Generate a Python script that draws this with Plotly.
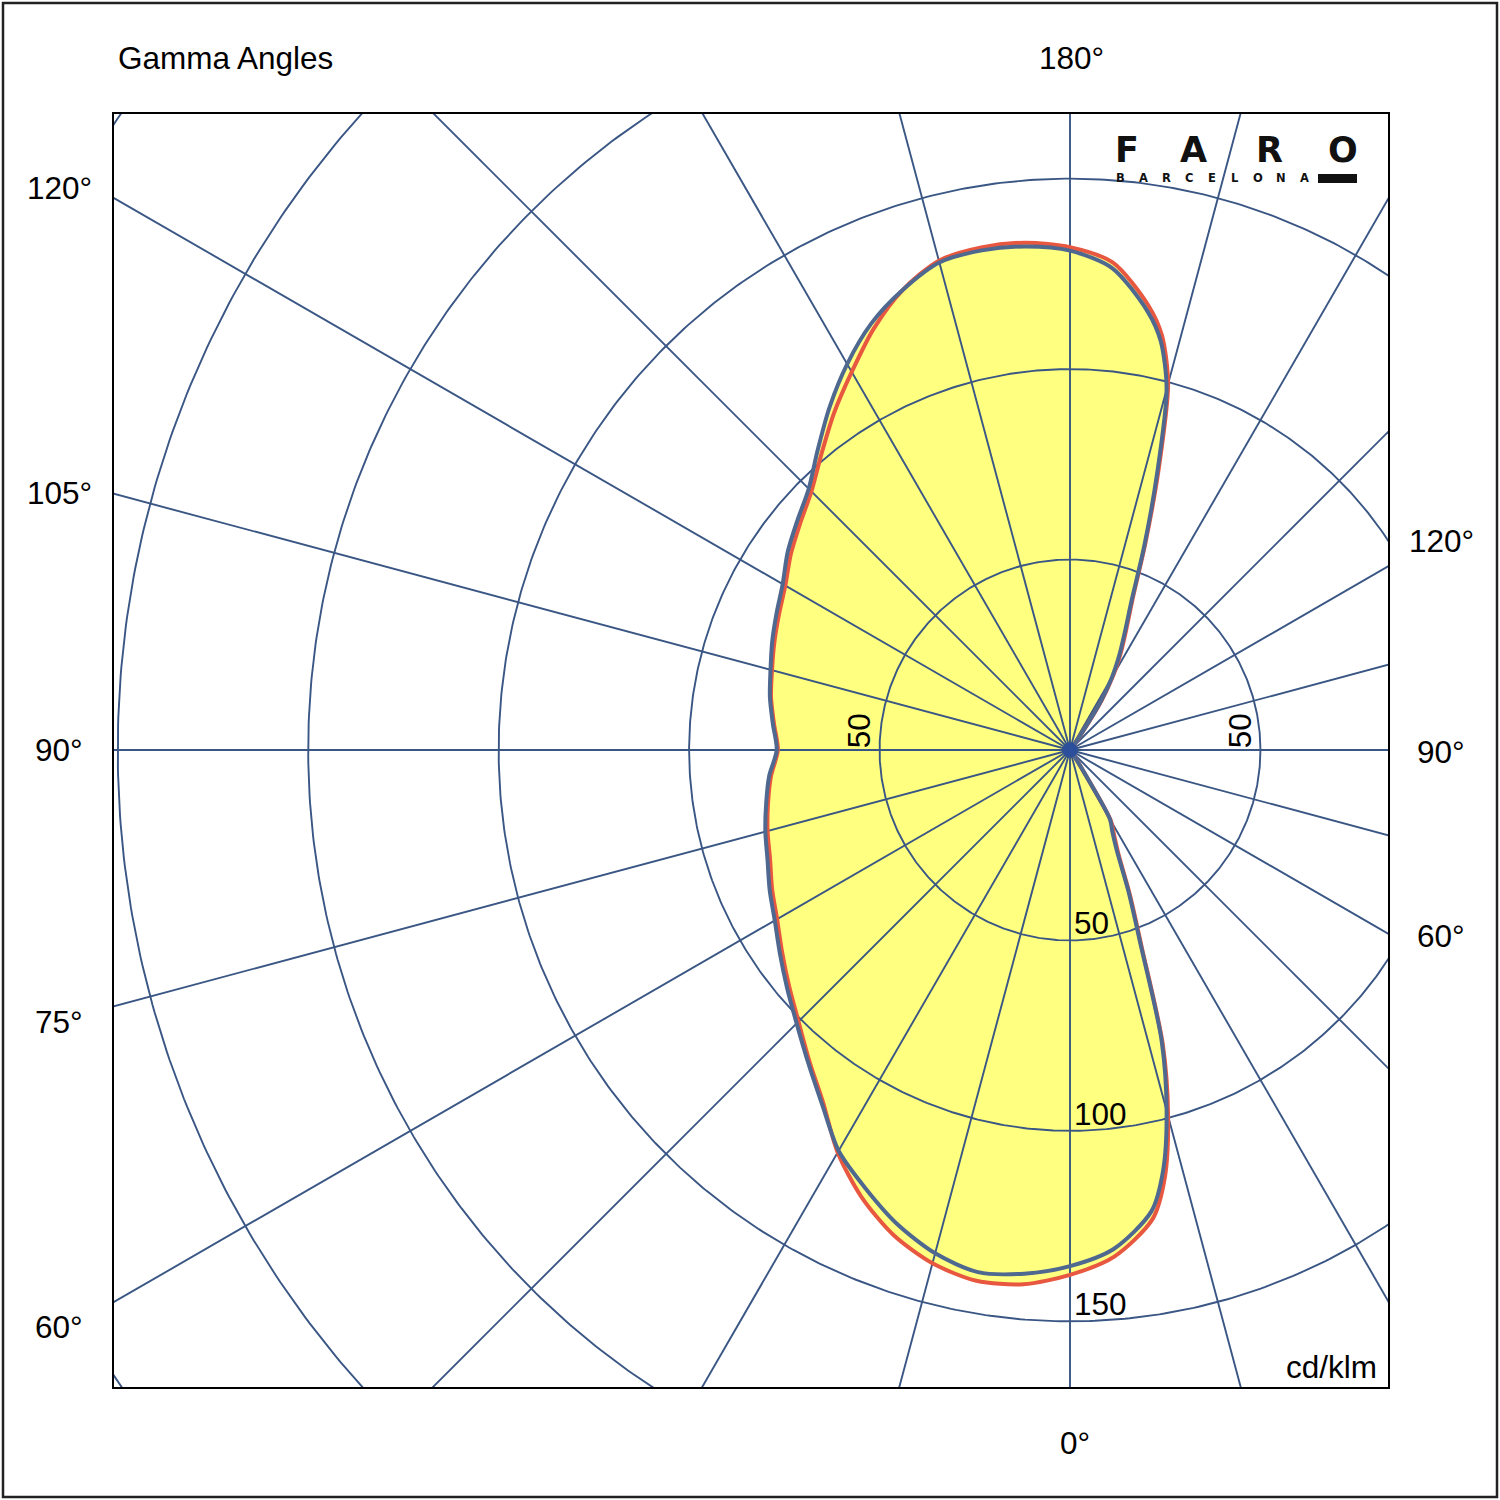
import numpy as np
import plotly.graph_objects as go

# ---------------- data (cd/klm) ----------------
gamma_left = [0, 5, 10, 15, 20, 25, 30, 35, 40, 45, 50, 55, 60, 65, 70, 75, 80, 85, 90,
              95, 100, 105, 110, 115, 120, 125, 130, 135, 140, 145, 150, 155, 160, 165, 170, 175, 180]
blue_left = [135.5, 138.0, 139.2, 136.8, 132.5, 127.0, 121.5, 113.5, 107.0, 101.5, 97.0, 93.0, 89.5,
             87.0, 84.5, 82.8, 81.0, 79.3, 77.0, 78.3, 80.0, 81.4, 83.2, 85.0, 87.1, 90.5, 93.5,
             97.0, 103.0, 110.0, 117.0, 123.5, 128.5, 132.5, 133.2, 132.7, 131.1]
red_left = [137.8, 140.8, 141.5, 139.5, 135.5, 129.5, 122.0, 113.0, 106.5, 100.8, 96.3, 92.3, 88.8,
            86.3, 83.8, 82.2, 80.5, 78.8, 76.7, 78.0, 79.7, 81.0, 82.6, 84.3, 86.3, 89.5, 92.5,
            96.0, 101.5, 108.0, 114.6, 122.0, 128.5, 133.0, 134.0, 133.7, 132.0]

gamma_right = [0, 5, 10, 12.5, 15, 17.5, 20, 22.5, 25, 27.5, 30, 32.5, 35, 40,
               50, 60, 70, 80, 90, 100, 110, 120, 130,
               140, 145, 147.5, 150, 152.5, 155, 157.5, 160, 162.5, 165, 167.5, 170, 175, 180]
blue_right = [135.5, 131.5, 123.0, 113.0, 98.0, 80.0, 54.0, 40.0, 29.0, 24.0, 21.0, 6.0, 2.0, 1.0,
              0.5, 0.5, 0.5, 0.5, 0.5, 0.5, 0.5, 0.5, 0.5,
              1.0, 5.0, 14.6, 22.0, 28.0, 34.0, 42.0, 57.0, 76.0, 98.0, 110.0, 117.0, 127.0, 131.1]
red_right = [137.8, 133.5, 125.0, 115.0, 99.5, 81.0, 55.0, 41.0, 30.0, 25.0, 21.5, 6.5, 2.0, 1.0,
             0.5, 0.5, 0.5, 0.5, 0.5, 0.5, 0.5, 0.5, 0.5,
             1.0, 5.5, 15.5, 23.0, 29.0, 35.0, 43.0, 58.0, 77.5, 99.5, 111.5, 118.5, 128.5, 132.0]

ring_values = [50, 100, 150, 200, 250, 300]
spoke_angles = list(range(0, 360, 15))
bottom_ring_labels = [50, 100, 150]
side_ring_label = 50

left_angle_labels = ["120°", "105°", "90°", "75°", "60°"]
right_angle_labels = ["120°", "90°", "60°"]
logo_big = ["F", "A", "R", "O"]
logo_small = list("BARCELONA")

# ---------------- geometry of the page ----------------
W = H = 1500
ML, MR, MT, MB = 114, 112, 114, 113
CX, CY = 1070, 750           # pole position in pixels
SCALE = 3.809                # pixels per cd/klm
x_range = [-(CX - ML) / SCALE, (W - MR - CX) / SCALE]
y_range = [-(H - MB - CY) / SCALE, (CY - MT) / SCALE]
PW, PH = W - ML - MR, H - MT - MB


def px(x):
    return (x - ML) / PW


def py(y):
    return (H - MB - y) / PH


def closed_path(gl, il, gr, ir):
    gl = np.radians(np.array(gl, float)); il = np.array(il, float)
    gr = np.radians(np.array(gr, float)); ir = np.array(ir, float)
    xl, yl = -il * np.sin(gl), -il * np.cos(gl)
    xr, yr = ir * np.sin(gr), -ir * np.cos(gr)
    x = np.concatenate([xl, xr[::-1][1:]])
    y = np.concatenate([yl, yr[::-1][1:]])
    return x, y


bx, by = closed_path(gamma_left, blue_left, gamma_right, blue_right)
rx, ry = closed_path(gamma_left, red_left, gamma_right, red_right)

YELLOW = "#FFFF80"
GRID = "#3A5684"
BLUE = "#4E6890"
RED = "#E8573F"
FONT = "Liberation Sans, Arial, sans-serif"

fig = go.Figure()

# fills
for xx, yy in [(rx, ry), (bx, by)]:
    fig.add_trace(go.Scatter(x=xx, y=yy, mode="lines", fill="toself", fillcolor=YELLOW,
                             line=dict(width=0, shape="spline", smoothing=0.8, color=YELLOW),
                             hoverinfo="skip", showlegend=False))

# grid rings
t = np.linspace(0, 2 * np.pi, 721)
gx, gy = [], []
for r in ring_values:
    gx += list(r * np.cos(t)) + [None]
    gy += list(r * np.sin(t)) + [None]
# spokes
rmax = 400
for a in spoke_angles:
    ar = np.radians(a)
    gx += [0, rmax * np.sin(ar), None]
    gy += [0, -rmax * np.cos(ar), None]
fig.add_trace(go.Scatter(x=gx, y=gy, mode="lines", line=dict(color=GRID, width=1.9),
                         hoverinfo="skip", showlegend=False))

# curves
fig.add_trace(go.Scatter(x=rx, y=ry, mode="lines",
                         line=dict(color=RED, width=4, shape="spline", smoothing=0.8),
                         hoverinfo="skip", showlegend=False))
fig.add_trace(go.Scatter(x=bx, y=by, mode="lines",
                         line=dict(color=BLUE, width=4, shape="spline", smoothing=0.8),
                         hoverinfo="skip", showlegend=False))
# pole
fig.add_trace(go.Scatter(x=[0], y=[0], mode="markers",
                         marker=dict(color="#2B4F9A", size=15),
                         hoverinfo="skip", showlegend=False))

ann = []
tf = dict(family=FONT, size=31.5, color="black")
ann.append(dict(text="Gamma Angles", x=px(116), y=py(58), xanchor="left", yanchor="middle"))
ann.append(dict(text="180°", x=px(1071), y=py(58), xanchor="center", yanchor="middle"))
ann.append(dict(text="0°", x=px(1075), y=py(1443), xanchor="center", yanchor="middle"))
for lab, yy in zip(left_angle_labels, [188, 493, 750, 1022, 1327]):
    ann.append(dict(text=lab, x=px(59), y=py(yy), xanchor="center", yanchor="middle"))
for lab, yy in zip(right_angle_labels, [541, 752, 936]):
    ann.append(dict(text=lab, x=px(1441), y=py(yy), xanchor="center", yanchor="middle"))
ann.append(dict(text="cd/klm", x=px(1379), y=py(1367), xanchor="right", yanchor="middle"))
for a in ann:
    a.update(xref="paper", yref="paper", showarrow=False, font=tf)

# ring labels (data coords)
for r in bottom_ring_labels:
    ann.append(dict(text=str(r), x=0.5, y=-r, xref="x", yref="y", xanchor="left", yanchor="bottom",
                    showarrow=False, font=tf, yshift=-3))
for sgn in (-1, 1):
    ann.append(dict(text=str(side_ring_label), x=sgn * side_ring_label - 5.3, y=5.0, xref="x", yref="y",
                    xanchor="center", yanchor="middle", textangle=-90, showarrow=False, font=tf))

# logo
for ch, xx in zip(logo_big, [1127, 1193, 1269, 1343]):
    ann.append(dict(text="<b>%s</b>" % ch, x=px(xx), y=py(150), xref="paper", yref="paper",
                    xanchor="center", yanchor="middle", showarrow=False,
                    font=dict(family="DejaVu Sans, sans-serif", size=35, color="#111111")))
for i, ch in enumerate(logo_small):
    ann.append(dict(text="<b>%s</b>" % ch, x=px(1120 + i * 23), y=py(178), xref="paper", yref="paper",
                    xanchor="center", yanchor="middle", showarrow=False,
                    font=dict(family="DejaVu Sans, sans-serif", size=11.5, color="#111111")))

shapes = [
    dict(type="rect", xref="paper", yref="paper", x0=px(1318), x1=px(1357), y0=py(183), y1=py(174),
         fillcolor="#111111", line=dict(width=0)),
    dict(type="rect", xref="paper", yref="paper", x0=px(3), x1=px(1497), y0=py(1497), y1=py(3),
         line=dict(color="#222222", width=2.5), fillcolor="rgba(0,0,0,0)"),
]

fig.update_layout(
    width=W, height=H,
    margin=dict(l=ML, r=MR, t=MT, b=MB, pad=0),
    paper_bgcolor="white", plot_bgcolor="white",
    xaxis=dict(range=x_range, showgrid=False, zeroline=False, showticklabels=False, ticks="",
               showline=True, mirror=True, linecolor="black", linewidth=2, fixedrange=True),
    yaxis=dict(range=y_range, showgrid=False, zeroline=False, showticklabels=False, ticks="",
               showline=True, mirror=True, linecolor="black", linewidth=2, fixedrange=True),
    annotations=ann, shapes=shapes, showlegend=False,
)

fig.write_html("out.html", config={"displayModeBar": False},
               post_script="document.body.style.margin='0px';document.body.style.overflow='hidden';")
